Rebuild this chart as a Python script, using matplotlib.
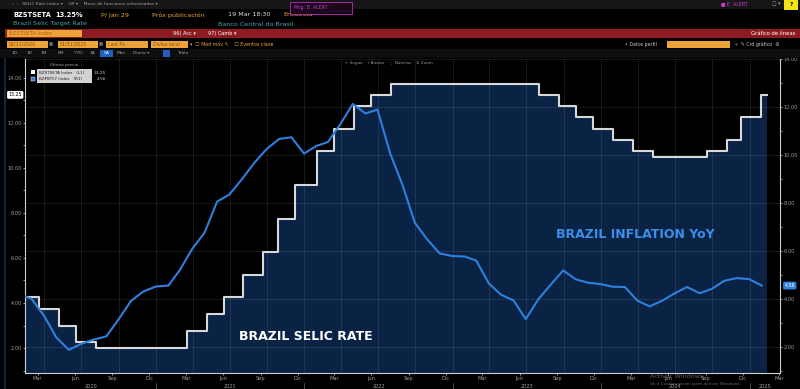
import matplotlib
matplotlib.use('Agg')
import matplotlib.pyplot as plt
import matplotlib.dates as mdates
import matplotlib.ticker as mticker
import matplotlib.transforms as mtrans
from matplotlib.patches import Rectangle
import pandas as pd

# Selic target rate (left axis): COPOM decision dates and new rate
selic_dates = ['2020-02-05', '2020-03-18', '2020-05-06', '2020-06-17', '2020-08-05',
               '2021-03-17', '2021-05-05', '2021-06-16', '2021-08-04', '2021-09-22',
               '2021-10-27', '2021-12-08', '2022-02-02', '2022-03-16', '2022-05-04',
               '2022-06-15', '2022-08-03', '2023-08-02', '2023-09-20', '2023-11-01',
               '2023-12-13', '2024-01-31', '2024-03-20', '2024-05-08', '2024-09-18',
               '2024-11-06', '2024-12-11', '2025-01-29']
selic_rates = [4.25, 3.75, 3.00, 2.25, 2.00,
               2.75, 3.50, 4.25, 5.25, 6.25,
               7.75, 9.25, 10.75, 11.75, 12.75,
               13.25, 13.75, 13.25, 12.75, 12.25,
               11.75, 11.25, 10.75, 10.50, 10.75,
               11.25, 12.25, 13.25]
selic_end = '2025-02-12'

# Brazil IPCA inflation YoY (right axis), month end Jan 2020 .. Jan 2025
ipca_dates = pd.date_range('2020-01-31', '2025-01-31', freq='ME')
ipca_yoy = [4.19, 4.01, 3.30, 2.40, 1.88, 2.13, 2.31, 2.44, 3.14, 3.92, 4.31, 4.52,
            4.56, 5.20, 6.10, 6.76, 8.06, 8.35, 8.99, 9.68, 10.25, 10.67, 10.74, 10.06,
            10.38, 10.54, 11.30, 12.13, 11.73, 11.89, 10.07, 8.73, 7.17, 6.47, 5.90, 5.79,
            5.77, 5.60, 4.65, 4.18, 3.94, 3.16, 3.99, 4.61, 5.19, 4.82, 4.68, 4.62,
            4.51, 4.50, 3.93, 3.69, 3.93, 4.23, 4.50, 4.24, 4.42, 4.76, 4.87, 4.83,
            4.56]

years = [2020, 2021, 2022, 2023, 2024, 2025]
meses = {3: 'Mar', 6: 'Jun', 9: 'Sep', 12: 'Dic'}

NAVY = '#0a2345'
BLUE = '#2f7fdc'
ORANGE = '#eea23a'
TEAL = '#3fa7b5'
GREY = '#a0a0a0'

W, H = 800, 389
fig = plt.figure(figsize=(W / 100, H / 100), dpi=100, facecolor='black')


def fx(x):
    return x / W


def fy(y):
    return 1 - y / H


def put(x, y, s, size=3.6, color=GREY, ha='left', z=5, **kw):
    fig.text(fx(x), fy(y), s, fontsize=size, color=color, ha=ha, va='center', zorder=z, **kw)


def box(x0, y0, x1, y1, fc, ec='none', lw=0.6, z=2):
    fig.add_artist(Rectangle((fx(x0), fy(y1)), (x1 - x0) / W, (y1 - y0) / H,
                             transform=fig.transFigure, facecolor=fc, edgecolor=ec,
                             linewidth=lw, zorder=z))


# ---- terminal header ----
box(0, 0, 800, 9, '#161616')
put(12, 4, '‹  ›   SELIC Rate Index ▾    GP ▾    Menú de funciones relacionadas ▾', size=3.2)
put(721, 4, '■ E. ALERT', size=3.4, color='#d23ad2')
put(772, 4, '▢ ▾', size=3.4)
box(784, 0, 798, 10, '#f2e21a')
put(791, 5, '?', size=4, color='black', ha='center', weight='bold')

put(13, 15, 'BZSTSETA', size=4.8, color='white', weight='bold')
put(55, 15, '13.25%', size=4.8, color='white', weight='bold')
put(101, 15, 'P/ Jan 29', size=4.6, color=ORANGE)
put(152, 15, 'Próx publicación', size=4.6, color=ORANGE)
put(228, 15, '19 Mar 18:30', size=4.6, color='#dddddd')
put(283, 15, 'Encuesta', size=4.6, color=ORANGE)
box(290, 2, 352, 14, '#1a061a', ec='#c02cc0', z=6)
put(294, 8, 'Msg: B. ALERT', size=3.4, color='#d23ad2', z=7)

put(13, 24, 'Brazil Selic Target Rate', size=4.6, color=TEAL)
put(218, 24, 'Banco Central do Brasil', size=4.6, color=TEAL)

box(5, 29, 800, 38, '#8e1b22')
box(7, 30, 82, 37, ORANGE)
put(9, 33.5, 'BZSTSETA Index', size=3.8, color='#b0650c')
put(173, 33.5, '96) Acc ▾', size=3.6, color='white')
put(208, 33.5, '97) Camb ▾', size=3.6, color='white')
put(795, 33.5, 'Gráfico de líneas', size=3.8, color='white', ha='right')

for x0, x1, s in [(7, 48, '02/11/2020'), (58, 98, '01/31/2025'),
                  (106, 148, 'Last Px'), (151, 188, 'Divisa local')]:
    box(x0, 41, x1, 48, ORANGE)
    put(x0 + 2, 44.5, s, size=3.4, color='#8a5208')
put(49, 44.5, '▦', size=3.2)
put(99, 44.5, '▦', size=3.2)
put(190, 44.5, '▾  ☐ Med móv ✎    ☐ Eventos clave', size=3.4, color=ORANGE)
put(625, 44.5, '• Datos perfil', size=3.4, color='#cccccc')
box(667, 41, 730, 48, ORANGE)
put(735, 44.5, '«  ✎ Crd gráfico  ⚙', size=3.4, color='#cccccc')

box(0, 49, 800, 58, '#0e0e0e')
box(100, 50, 113, 57, '#1f5fbf')
for x, s in [(12, '1D'), (27, '3D'), (41, '1M'), (58, '6M'), (74, 'YTD'), (90, '1A'),
             (104, '5A'), (117, 'Máx'), (133, 'Diario ▾'), (177, 'Tabla')]:
    put(x, 53.5, s, size=3.2, color='white' if s == '5A' else GREY)
box(163, 50, 170, 57, '#1f5fbf')

# thin panel strip on the left
box(4, 58, 6, 389, '#12263c', z=1)

# ---- chart ----
ax = fig.add_axes([25 / W, (H - 373) / H, 755 / W, (373 - 59) / H])
ax.set_facecolor('black')
ax2 = ax.twinx()

sx = pd.to_datetime(selic_dates + [selic_end])
sy = selic_rates + [selic_rates[-1]]
ax.fill_between(sx, sy, 0, step='post', color=NAVY, lw=0, zorder=1)
ax.step(sx, sy, where='post', color='#d8d8d8', lw=1.5, zorder=3)
ax2.plot(ipca_dates, ipca_yoy, color=BLUE, lw=1.5, zorder=4)

ax.set_xlim(pd.Timestamp('2020-02-13'), pd.Timestamp('2025-03-17'))
ax.set_ylim(0.889, 14.844)
ax2.set_ylim(0.917, 14.0)

ax.xaxis.set_major_locator(mdates.MonthLocator(bymonth=(1, 4, 7, 10)))
ax.xaxis.set_major_formatter(mticker.NullFormatter())
ax.xaxis.set_minor_locator(mdates.MonthLocator(bymonth=(3, 6, 9, 12), bymonthday=15))
ax.xaxis.set_minor_formatter(mticker.FuncFormatter(
    lambda v, p: meses[mdates.num2date(v).month]))
ax.tick_params(axis='x', which='major', length=0)
ax.tick_params(axis='x', which='minor', length=1.5, pad=0.6, labelsize=3.6,
               color='#bbbbbb', labelcolor=GREY)

for a in (ax, ax2):
    a.yaxis.set_major_locator(mticker.MultipleLocator(2))
    a.yaxis.set_minor_locator(mticker.MultipleLocator(1))
    a.yaxis.set_major_formatter(mticker.FormatStrFormatter('%.2f'))
    a.tick_params(axis='y', which='both', length=1.5, width=0.5, pad=1,
                  labelsize=3.6, color='#cccccc', labelcolor=GREY)
    for s in a.spines.values():
        s.set_visible(False)
ax.spines['left'].set_visible(True)
ax.spines['bottom'].set_visible(True)
ax2.spines['right'].set_visible(True)
for s in (ax.spines['left'], ax.spines['bottom'], ax2.spines['right']):
    s.set_color('#cfcfcf')
    s.set_linewidth(0.8)

ax.set_axisbelow('line')
ax.grid(axis='x', which='major', color='white', alpha=0.11, lw=0.6)
ax2.grid(axis='y', which='major', color='white', alpha=0.11, lw=0.6)

# year labels and separators under the month labels
bt = mtrans.blended_transform_factory(ax.transData, ax.transAxes)
x0, x1 = [mdates.num2date(v).replace(tzinfo=None) for v in ax.get_xlim()]
for yr in years:
    start = max(pd.Timestamp(f'{yr}-01-01'), pd.Timestamp(x0))
    end = min(pd.Timestamp(f'{yr + 1}-01-01'), pd.Timestamp(x1))
    ax.text(start + (end - start) / 2, -0.043, str(yr), transform=bt, ha='center',
            va='center', fontsize=3.6, color=GREY)
    if yr > years[0]:
        jan = pd.Timestamp(f'{yr}-01-01')
        ax.plot([jan, jan], [-0.033, -0.06], transform=bt, clip_on=False,
                color='#6a6a6a', lw=0.5)

# last value tags on both axes
lt = mtrans.blended_transform_factory(ax.transAxes, ax.transData)
ax.text(-0.004, selic_rates[-1], f'{selic_rates[-1]:.2f}', transform=lt, ha='right',
        va='center', fontsize=3.4, color='black',
        bbox=dict(boxstyle='round,pad=0.3', fc='white', ec='none'))
rt = mtrans.blended_transform_factory(ax2.transAxes, ax2.transData)
ax2.text(1.006, ipca_yoy[-1], f'{ipca_yoy[-1]:.2f}', transform=rt, ha='left',
         va='center', fontsize=3.4, color='white', clip_on=False,
         bbox=dict(boxstyle='round,pad=0.3', fc=BLUE, ec='none'))

# legend block
put(64, 65, 'Último precio', size=3.1, ha='center')
box(31, 70, 35, 74, 'white', z=6)
box(31, 77, 35, 81, BLUE, ec='white', lw=0.3, z=6)
box(37, 69, 92, 83, '#d2d2d2', z=6)
put(39, 72.5, 'BZSTSETA Index   (L1)', size=3.0, color='#222222', z=7)
put(39, 79.5, 'BZPIIPCY Index   (R1)', size=3.0, color='#222222', z=7)
put(106, 72.5, f'{selic_rates[-1]:.2f}', size=3.1, color='#cccccc', ha='right')
put(106, 79.5, f'{ipca_yoy[-1]:.2f}', size=3.1, color='#cccccc', ha='right')

put(345, 63, '+ Seguir    / Anotar    ⋮ Noticias    ⊙ Zoom', size=3.0, color='#9a9a9a')

# chart captions
put(306, 337, 'BRAZIL SELIC RATE', size=9, color='white', ha='center', weight='bold')
put(635, 235, 'BRAZIL INFLATION YoY', size=9, color='#3b8fe8', ha='center', weight='bold')

# windows watermark
put(650, 376, 'Activar Windows', size=4.6, color='#8a8a8a', alpha=0.7)
put(650, 384, 'Ve a Configuración para activar Windows.', size=3.2, color='#8a8a8a', alpha=0.7)

fig.savefig('out.png', dpi=100, facecolor='black')
